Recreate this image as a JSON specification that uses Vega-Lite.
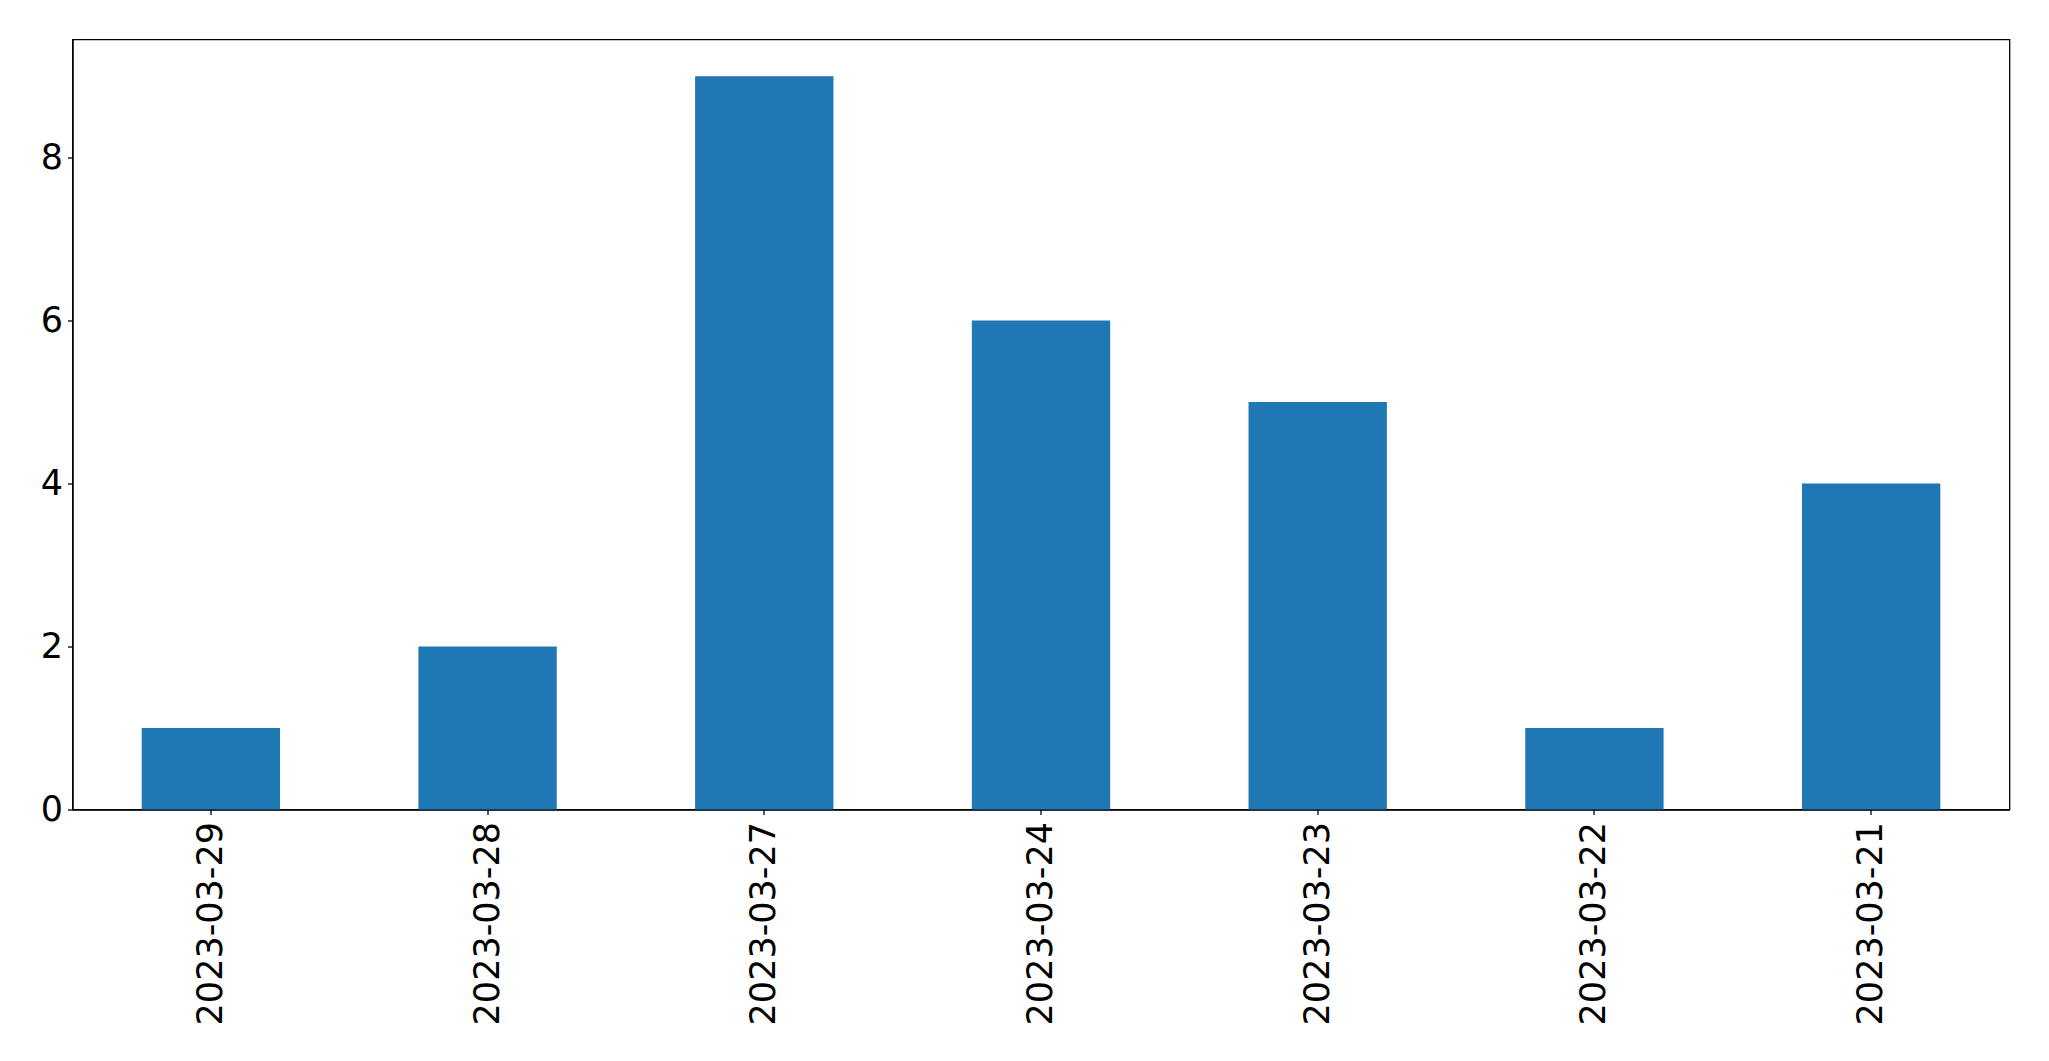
{
  "$schema": "https://vega.github.io/schema/vega-lite/v6.json",
  "autosize": {"type": "none"},
  "padding": {"left": 72.5, "top": 39.5, "right": 39, "bottom": 252},
  "width": 1937,
  "height": 770,
  "background": "white",
  "config": {
    "view": {"stroke": "black", "strokeWidth": 1.3}
  },
  "data": {
    "values": [
      {"date": "2023-03-29", "count": 1},
      {"date": "2023-03-28", "count": 2},
      {"date": "2023-03-27", "count": 9},
      {"date": "2023-03-24", "count": 6},
      {"date": "2023-03-23", "count": 5},
      {"date": "2023-03-22", "count": 1},
      {"date": "2023-03-21", "count": 4}
    ]
  },
  "mark": {"type": "bar", "color": "#1f77b4"},
  "encoding": {
    "x": {
      "field": "date",
      "type": "nominal",
      "sort": null,
      "scale": {"paddingInner": 0.5, "paddingOuter": 0.25},
      "axis": {
        "title": null,
        "labelAngle": -90,
        "labelPadding": 7,
        "labelLimit": 0,
        "labelFont": "DejaVu Sans",
        "labelFontSize": 35,
        "labelColor": "black",
        "domainColor": "black",
        "domainWidth": 1.3,
        "tickColor": "black",
        "tickSize": 5,
        "tickWidth": 1.3,
        "grid": false
      }
    },
    "y": {
      "field": "count",
      "type": "quantitative",
      "scale": {"domain": [0, 9.45], "nice": false},
      "axis": {
        "title": null,
        "values": [0, 2, 4, 6, 8],
        "labelPadding": 5,
        "labelFont": "DejaVu Sans",
        "labelFontSize": 35,
        "labelColor": "black",
        "domainColor": "black",
        "domainWidth": 1.3,
        "tickColor": "black",
        "tickSize": 5,
        "tickWidth": 1.3,
        "grid": false
      }
    }
  }
}
